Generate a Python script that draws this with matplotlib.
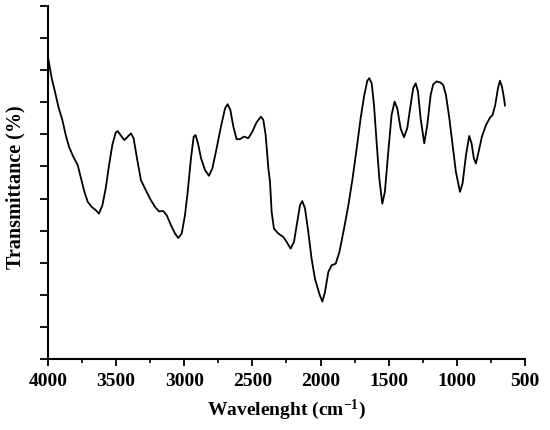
import matplotlib
matplotlib.use('Agg')
import matplotlib.pyplot as plt
from matplotlib.ticker import MultipleLocator

# FTIR spectrum, values
wavenumber = [4000, 3973, 3949, 3924, 3895, 3870, 3846, 3814, 3782, 3758,
              3733, 3709, 3680, 3650, 3626, 3601, 3577, 3552, 3528, 3503,
              3489, 3464, 3440, 3415, 3391, 3372, 3347, 3318, 3288, 3252,
              3215, 3186, 3154, 3129, 3098, 3068, 3044, 3019, 2995, 2975,
              2951, 2931, 2917, 2897, 2877, 2848, 2819, 2794, 2763, 2731,
              2701, 2682, 2662, 2640, 2616, 2591, 2562, 2530, 2501, 2469,
              2437, 2420, 2403, 2383, 2371, 2359, 2342, 2310, 2273, 2249,
              2220, 2195, 2171, 2151, 2134, 2114, 2090, 2066, 2041, 2009,
              1987, 1968, 1943, 1919, 1889, 1862, 1828, 1796, 1765, 1735,
              1706, 1679, 1657, 1642, 1625, 1608, 1589, 1569, 1547, 1528,
              1503, 1479, 1457, 1437, 1413, 1388, 1364, 1339, 1320, 1302,
              1285, 1266, 1239, 1217, 1192, 1173, 1148, 1119, 1100, 1080,
              1055, 1031, 1007, 977, 958, 933, 909, 892, 875, 860,
              840, 816, 786, 757, 738, 718, 698, 684, 669, 654, 647]
transmittance = [9.40, 8.75, 8.33, 7.86, 7.45, 6.98, 6.61, 6.30, 6.04, 5.63,
                 5.21, 4.90, 4.74, 4.64, 4.53, 4.79, 5.31, 6.04, 6.67, 7.06,
                 7.10, 6.96, 6.82, 6.93, 7.03, 6.88, 6.25, 5.57, 5.31, 5.00,
                 4.74, 4.60, 4.61, 4.48, 4.17, 3.91, 3.77, 3.91, 4.48, 5.21,
                 6.25, 6.93, 6.98, 6.67, 6.25, 5.89, 5.71, 5.94, 6.56, 7.24,
                 7.81, 7.94, 7.76, 7.24, 6.85, 6.85, 6.93, 6.88, 7.08, 7.38,
                 7.55, 7.45, 6.98, 5.94, 5.52, 4.58, 4.06, 3.91, 3.80, 3.65,
                 3.44, 3.65, 4.27, 4.79, 4.92, 4.69, 3.96, 3.13, 2.50, 2.03,
                 1.79, 2.08, 2.71, 2.92, 2.97, 3.33, 4.06, 4.79, 5.63, 6.56,
                 7.50, 8.23, 8.67, 8.75, 8.59, 7.92, 6.77, 5.63, 4.84, 5.21,
                 6.46, 7.60, 8.02, 7.81, 7.19, 6.91, 7.19, 7.92, 8.44, 8.59,
                 8.33, 7.50, 6.72, 7.29, 8.23, 8.56, 8.65, 8.61, 8.54, 8.23,
                 7.50, 6.67, 5.83, 5.21, 5.47, 6.35, 6.95, 6.72, 6.25, 6.09,
                 6.46, 6.93, 7.29, 7.52, 7.60, 7.92, 8.44, 8.67, 8.49, 8.13, 7.90]

plt.rcParams['font.family'] = ['Liberation Serif', 'DejaVu Serif']
plt.rcParams['font.weight'] = 'bold'
plt.rcParams['mathtext.fontset'] = 'custom'
plt.rcParams['mathtext.rm'] = 'Liberation Serif:bold'
plt.rcParams['mathtext.bf'] = 'Liberation Serif:bold'

fig = plt.figure(figsize=(5.5, 4.31), dpi=100)
ax = fig.add_axes([0.0873, 0.1647, 0.8672, 0.8191])

ax.plot(wavenumber, transmittance, color='black', linewidth=1.3)

ax.set_xlim(4000, 500)
ax.set_ylim(0, 11)
ax.xaxis.set_major_locator(MultipleLocator(500))
ax.xaxis.set_minor_locator(MultipleLocator(250))
ax.yaxis.set_major_locator(MultipleLocator(1))
ax.set_yticklabels([])

ax.spines['top'].set_visible(False)
ax.spines['right'].set_visible(False)
for s in ['left', 'bottom']:
    ax.spines[s].set_linewidth(1.5)

ax.tick_params(axis='x', which='major', direction='out', length=5, width=1.3,
               labelsize=14, pad=4)
ax.tick_params(axis='x', which='minor', direction='out', length=3, width=1.2)
ax.tick_params(axis='y', which='major', direction='out', length=6, width=1.3)

ax.set_xlabel('Wavelenght (cm$\\mathregular{^{-1}}$)', fontsize=14, fontweight='bold', labelpad=6)
ax.set_ylabel('Transmittance (%)', fontsize=14.5, fontweight='bold')
ax.yaxis.set_label_coords(-0.047, 0.49)

fig.savefig('out.png', dpi=100)
